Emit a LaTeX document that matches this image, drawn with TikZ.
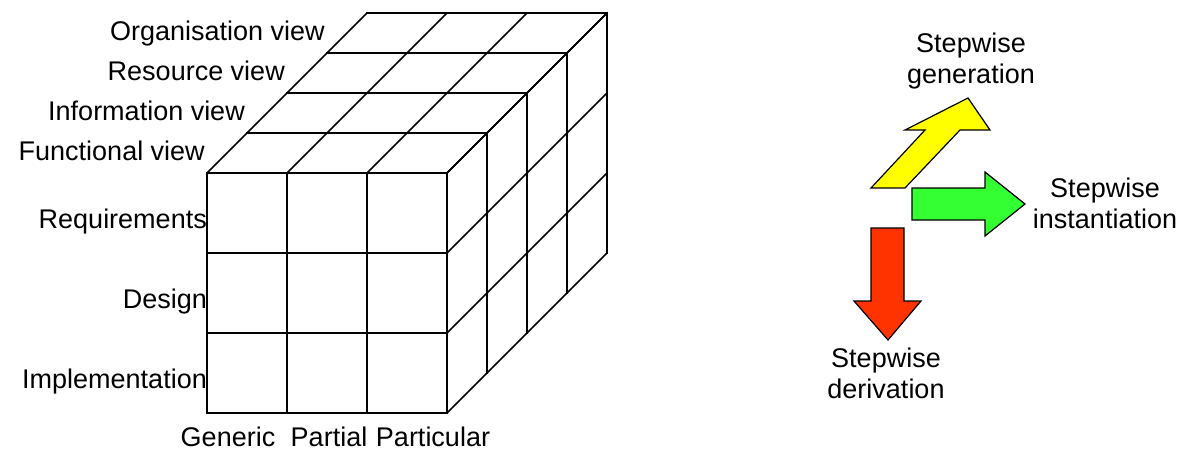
\documentclass[tikz,border=0pt]{standalone}
\usepackage{fontspec}
\setmainfont{Liberation Sans}
\usepackage{xcolor}
\usepackage{tikz}
\usetikzlibrary{positioning}
\definecolor{genyellow}{HTML}{FFFF00}
\definecolor{instgreen}{HTML}{33FF33}
\definecolor{derivred}{HTML}{FF3300}

\tikzset{
  cubeline/.style={line width=1.6pt, line cap=rect},
  labeltext/.style={inner sep=0pt, font=\fontsize{27}{31}\selectfont},
  viewlabel/.style={labeltext, anchor=base east},
  axislabel/.style={labeltext, anchor=base},
  steplabel/.style={labeltext, anchor=base, align=center},
  blockarrow/.style={draw=black, line width=1.2pt, line join=miter},
}

\begin{document}
\begin{tikzpicture}[x=1pt, y=-1pt]
    \useasboundingbox (0,0) rectangle (1183,451);

    % cube: front, top and right faces
    \foreach \c in {0,1,2,3} {
      \draw[cubeline] (207+80*\c,173) -- (207+80*\c,413);
      \draw[cubeline] (207,173+80*\c) -- (447,173+80*\c);
      \draw[cubeline] (207+80*\c,173) -- (367+80*\c,13);
      \draw[cubeline] (447,173+80*\c) -- (607,13+80*\c);
    }
    \foreach \k in {1,2,3,4} {
      \draw[cubeline] (207+40*\k,173-40*\k) -- (447+40*\k,173-40*\k);
      \draw[cubeline] (447+40*\k,173-40*\k) -- (447+40*\k,413-40*\k);
    }

    % views (depth)
    \node[viewlabel] (funcview) at (205,160) {Functional view};
    \node[viewlabel] (infoview) at (245,120) {Information view};
    \node[viewlabel] (resview)  at (285,80)  {Resource view};
    \node[viewlabel] (orgview)  at (325,40)  {Organisation view};

    % phases (rows)
    \node[viewlabel] (req)    at (207,228) {Requirements};
    \node[viewlabel] (design) at (207,308) {Design};
    \node[viewlabel] (impl)   at (207,388) {Implementation};

    % levels (columns)
    \node[axislabel] (generic)    at (228,446) {Generic};
    \node[axislabel] (partial)    at (329,446) {Partial};
    \node[axislabel] (particular) at (433,446) {Particular};

    % stepwise arrows
    \draw[blockarrow, fill=genyellow] (871,188) -- (905,188) -- (960,130) -- (990,130)
      -- (968,98) -- (905,130) -- (925,130) -- cycle;
    \draw[blockarrow, fill=instgreen] (912,188) -- (985,188) -- (985,172) -- (1025,204)
      -- (985,236) -- (985,220) -- (912,220) -- cycle;
    \draw[blockarrow, fill=derivred] (871,228) -- (904,228) -- (904,301) -- (921,301)
      -- (888,340) -- (854,301) -- (871,301) -- cycle;

    % base of the last line
    \node[steplabel] (generation)    at (971,83)   {Stepwise\\generation};
    \node[steplabel] (instantiation) at (1105,228) {Stepwise\\instantiation};
    \node[steplabel] (derivation)    at (886,398)  {Stepwise\\derivation};
  \end{tikzpicture}
\end{document}
